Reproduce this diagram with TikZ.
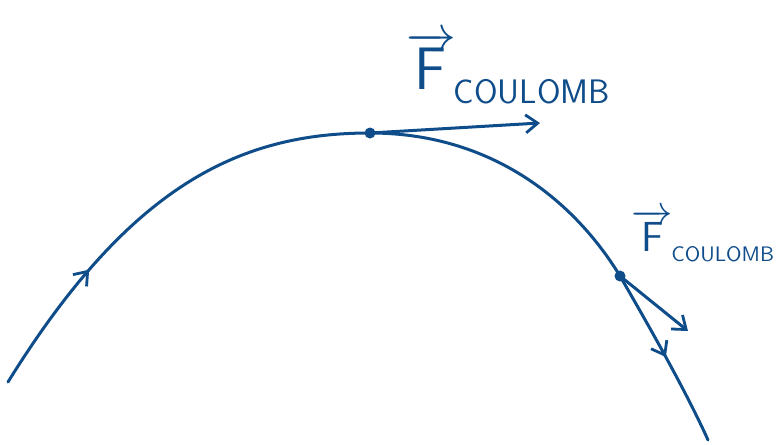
\documentclass[tikz,border=0pt]{standalone}
\usepackage{xcolor}
\usepackage{tikz}
\usetikzlibrary{arrows.meta,decorations.markings}

\begin{document}
\begin{tikzpicture}[
  x=0.5pt, y=-0.5pt,
  >={Straight Barb[length=6pt,width=9pt,line width=1.4pt]},
  ink/.style={draw=penblue, line width=1.5pt, line cap=round, line join=round},
  midarrow/.style={postaction={decorate},
    decoration={markings, mark=at position #1 with {\arrow{>}}}},
  force/.style={ink, ->},
  dotmark/.style={circle, fill=penblue, inner sep=0pt, minimum size=5.5pt},
  forcelabel/.style={text=penblue, inner sep=0pt, font=\sffamily}
]
\definecolor{penblue}{HTML}{0F4C8A}

\useasboundingbox (0,0) rectangle (778,445);

% points on the trajectory
\coordinate (start) at (8,382);
\node[dotmark] (top) at (370,133) {};
\node[dotmark] (side) at (620,276) {};
\coordinate (finish) at (708,440);

% trajectory
\draw[ink, midarrow=0.3] (start) .. controls (130,185) and (240,133) .. (top.center);
\draw[ink] (top.center) .. controls (500,133) and (580,210) .. (side.center);
\draw[ink, midarrow=0.5] (side.center) .. controls (660,345) and (690,400) .. (finish);

% forces
\coordinate (tipA) at (540,123);
\coordinate (tipB) at (688,331);
\draw[force] (top.center) -- (tipA);
\draw[force] (side.center) -- (tipB);

\node[forcelabel, font=\fontsize{30}{32}\selectfont\sffamily] (labA) at (508,68)
  {$\overrightarrow{\textsf{F}}$\kern-1pt\raisebox{-7pt}{\fontsize{17}{18}\selectfont COULOMB}};
\node[forcelabel, font=\fontsize{21}{23}\selectfont\sffamily] (labB) at (703,236)
  {$\overrightarrow{\textsf{F}}$\kern-1pt\raisebox{-5pt}{\fontsize{10.5}{12}\selectfont COULOMB}};
\end{tikzpicture}
\end{document}
